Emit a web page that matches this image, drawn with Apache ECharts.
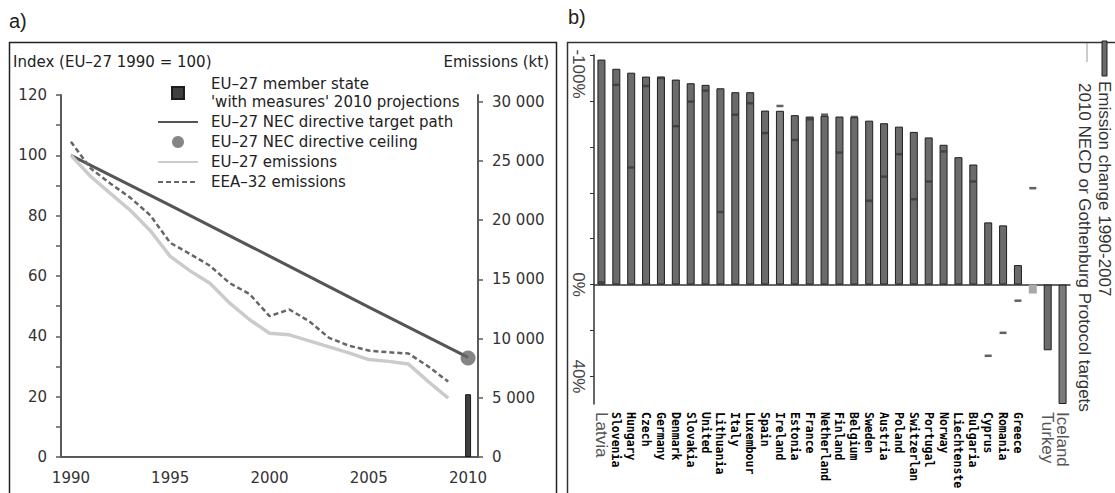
<!DOCTYPE html>
<html>
<head>
<meta charset="utf-8">
<title>NOx emissions: EU-27 trend and country changes</title>
<script src="https://cdn.jsdelivr.net/npm/echarts@6/dist/echarts.min.js"></script>
<style>
    html, body { margin: 0; padding: 0; background: #ffffff; }
    #chart { width: 1115px; height: 493px; }
</style>
</head>
<body>
<div id="chart"></div>
<script>
// ---- panel a: index (EU-27 1990 = 100) and emissions in kt ----
const years = ["1990", "1991", "1992", "1993", "1994", "1995", "1996", "1997", "1998", "1999", "2000",
    "2001", "2002", "2003", "2004", "2005", "2006", "2007", "2008", "2009", "2010"];
const eu27Emissions = [100, 93, 87.3, 81.7, 75, 66.5, 61.7, 57.6, 51, 45.5, 41,
    40.5, 38.5, 36.5, 34.5, 32.3, 31.7, 30.8, 25, 19.5, null];
const eea32Emissions = [104.5, 95.6, 90.6, 85.9, 80.1, 71, 67.3, 63.4, 57.6, 54, 46.7,
    48.9, 45, 39.5, 36.9, 35.3, 34.7, 34.3, 30, 25, null];
// target path read at five-year marks, drawn straight between them
const targetPath = [100, null, null, null, null, 83.4, null, null, null, null, 66.6,
    null, null, null, null, 49.7, null, null, null, null, 33];
const ceiling2010 = 32.8;
const projection2010 = [null, null, null, null, null, null, null, null, null, null, null,
    null, null, null, null, null, null, null, null, null, 5300];
const ktTicks = [0, 5000, 10000, 15000, 20000, 25000, 30000];

// ---- panel b: emission change 1990-2007 per country (%) ----
const countries = ["Latvia", "Slovenia", "Hungary", "Czech", "Germany", "Denmark", "Slovakia", "United",
    "Lithuania", "Italy", "Luxembour", "Spain", "Ireland", "Estonia", "France", "Netherland", "Finland",
    "Belgium", "Sweden", "Austria", "Poland", "Switzerlan", "Portugal", "Norway", "Liechtenste",
    "Bulgaria", "Cyprus", "Romania", "Greece", "", "Turkey", "Iceland"];
const emissionChange = [-98, -94, -92.3, -90.6, -90.6, -89.3, -87.7, -87, -85.5, -83.8, -83.8, -75.8,
    -75.7, -73.8, -73.2, -73.5, -73.2, -73, -71.4, -70.3, -68.8, -66.5, -64.1, -60.9, -55.5, -52.3,
    -27.1, -25.8, -8.5, 3.9, 28.6, 52];
const protocolTargets = [-1, -87, -51, -86.5, -90, -69, -79.7, -84.5, -31.6, -74, -79, -66, -77.8, -63,
    -72, -74, -57.5, -73, -36.5, -47, -56.8, -37.2, -44.9, -58, null, -44.9, 31, 21, 7, -42, null, null];
const pctTicks = [-100, -80, -60, -40, -20, 0, 20, 40];
const pctLabels = [-100, 0, 40];
const largeLabelCountries = ["Latvia", "Turkey", "Iceland"];

const VERDANA = "DejaVu Sans";
const ARIAL = "Liberation Sans";
const AXIS_GREY = "#5a5a5a";
const TEXT_A = 15;

function formatKt(value) {
    if (value < 1000) {
        return String(value);
    }
    return Math.floor(value / 1000) + " " + String(value % 1000).padStart(3, "0");
}

const chart = echarts.init(document.getElementById("chart"), null, { renderer: "svg" });

const hiddenSymbol = { opacity: 0 };

const option = {
    animation: false,
    backgroundColor: "#ffffff",
    title: [
        { text: "a)", left: 9, top: 11, padding: 0, textStyle: { fontFamily: ARIAL, fontSize: 20, fontWeight: "normal", color: "#222" } },
        { text: "b)", left: 568, top: 7, padding: 0, textStyle: { fontFamily: ARIAL, fontSize: 20, fontWeight: "normal", color: "#222" } },
        { text: "Index (EU\u201327 1990 = 100)", left: 13, top: 54, padding: 0, textStyle: { fontFamily: VERDANA, fontSize: TEXT_A, fontWeight: "normal", color: "#222" } },
        { text: "Emissions (kt)", right: 566, top: 54, padding: 0, textStyle: { fontFamily: VERDANA, fontSize: TEXT_A, fontWeight: "normal", color: "#222" } }
    ],
    legend: {
        orient: "vertical",
        left: 157,
        top: 75,
        padding: 0,
        itemWidth: 40,
        itemHeight: 12,
        itemGap: 2,
        selectedMode: false,
        textStyle: { fontFamily: VERDANA, fontSize: TEXT_A, lineHeight: 18, color: "#222", padding: [0, 0, 0, 8] },
        data: [
            { name: "EU\u201327 member state\n'with measures' 2010 projections", icon: "path://M0,0L0.01,0ZM40,12L40.01,12ZM14,0H26V12H14Z" },
            { name: "EU\u201327 NEC directive target path", itemStyle: hiddenSymbol },
            { name: "EU\u201327 NEC directive ceiling", icon: "circle" },
            { name: "EU\u201327 emissions", itemStyle: hiddenSymbol },
            { name: "EEA\u201332 emissions", itemStyle: hiddenSymbol }
        ]
    },
    grid: [
        { left: 61, right: 637, top: 95, bottom: 36 },
        { left: 594, right: 45, top: 55, bottom: 89 }
    ],
    xAxis: [
        {
            type: "category",
            gridIndex: 0,
            data: years,
            boundaryGap: true,
            axisLine: { lineStyle: { color: AXIS_GREY, width: 2 } },
            axisTick: { interval: 0, length: 5, lineStyle: { color: AXIS_GREY, width: 1.5 } },
            axisLabel: { interval: 4, margin: 13, fontFamily: VERDANA, fontSize: TEXT_A, color: "#333" }
        },
        {
            // country labels below the plot
            type: "category",
            gridIndex: 1,
            data: countries,
            position: "bottom",
            axisLine: { show: false, onZero: false },
            axisTick: { show: false },
            axisLabel: {
                interval: 0,
                rotate: -90,
                margin: 8,
                formatter: function (value) {
                    if (!value) {
                        return "";
                    }
                    return largeLabelCountries.includes(value) ? "{big|" + value + "}" : "{small|" + value + "}";
                },
                rich: {
                    big: { fontFamily: ARIAL, fontSize: 17, color: "#555" },
                    small: { fontFamily: "DejaVu Sans Mono", fontSize: 11.5, fontWeight: "bold", color: "#000" }
                }
            }
        },
        {
            // the 0% base line with its small ticks
            type: "category",
            gridIndex: 1,
            data: countries,
            position: "top",
            axisLine: { onZero: true, lineStyle: { color: "#333", width: 1.5 } },
            axisTick: { interval: 0, length: 4, lineStyle: { color: "#333", width: 1 } },
            axisLabel: { show: false }
        }
    ],
    yAxis: [
        {
            type: "value",
            gridIndex: 0,
            min: 0,
            max: 120,
            interval: 10,
            axisLine: { show: true, lineStyle: { color: AXIS_GREY, width: 2 } },
            axisTick: { show: true, length: 5, lineStyle: { color: AXIS_GREY, width: 1.5 } },
            axisLabel: {
                margin: 14,
                fontFamily: VERDANA,
                fontSize: TEXT_A,
                color: "#333",
                formatter: function (value) {
                    return value % 20 === 0 ? String(value) : "";
                }
            },
            splitLine: { show: false }
        },
        {
            type: "value",
            gridIndex: 0,
            position: "right",
            min: 0,
            max: 30550,
            axisLine: { show: true, lineStyle: { color: AXIS_GREY, width: 2 } },
            axisTick: { show: true, length: 5, customValues: ktTicks, lineStyle: { color: AXIS_GREY, width: 1.5 } },
            axisLabel: { customValues: ktTicks, margin: 14, fontFamily: VERDANA, fontSize: TEXT_A, color: "#333", formatter: formatKt },
            splitLine: { show: false }
        },
        {
            type: "value",
            gridIndex: 1,
            inverse: true,
            min: -100,
            max: 52,
            axisLine: { show: true, onZero: false, lineStyle: { color: "#333", width: 1.5 } },
            axisTick: { show: true, length: 4, customValues: pctTicks, lineStyle: { color: "#333", width: 1 } },
            axisLabel: {
                customValues: pctLabels,
                rotate: -90,
                margin: 7,
                fontFamily: ARIAL,
                fontSize: 17,
                color: "#444",
                formatter: function (value) {
                    return value === -100 ? "{first|-100%}" : value + "%";
                },
                rich: {
                    first: { fontFamily: ARIAL, fontSize: 17, color: "#444", padding: [0, 0, 0, 38] }
                }
            },
            splitLine: { show: false }
        }
    ],
    series: [
        {
            name: "EU\u201327 member state\n'with measures' 2010 projections",
            type: "bar",
            xAxisIndex: 0,
            yAxisIndex: 1,
            data: projection2010,
            barWidth: 6,
            itemStyle: { color: "#3f3f3f", borderColor: "#1c1c1c", borderWidth: 1 }
        },
        {
            name: "EU\u201327 NEC directive target path",
            type: "line",
            xAxisIndex: 0,
            yAxisIndex: 0,
            data: targetPath,
            connectNulls: true,
            symbol: "none",
            lineStyle: { color: "#555555", width: 3 },
            itemStyle: { color: "#555555" }
        },
        {
            name: "EU\u201327 NEC directive ceiling",
            type: "scatter",
            xAxisIndex: 0,
            yAxisIndex: 0,
            data: [["2010", ceiling2010]],
            symbolSize: 15,
            itemStyle: { color: "#666666" },
            z: 5
        },
        {
            name: "EU\u201327 emissions",
            type: "line",
            xAxisIndex: 0,
            yAxisIndex: 0,
            data: eu27Emissions,
            symbol: "none",
            lineStyle: { color: "#cbcbcb", width: 3.5 },
            itemStyle: { color: "#cbcbcb" }
        },
        {
            name: "EEA\u201332 emissions",
            type: "line",
            xAxisIndex: 0,
            yAxisIndex: 0,
            data: eea32Emissions,
            symbol: "none",
            lineStyle: { color: "#666666", width: 2.5, type: [5, 3] },
            itemStyle: { color: "#666666" }
        },
        {
            name: "Emission change 1990-2007",
            type: "bar",
            xAxisIndex: 1,
            yAxisIndex: 2,
            barWidth: 8,
            data: emissionChange.map(function (value, i) {
                return countries[i] === "" ? { value: value, itemStyle: { borderWidth: 0 } } : value;
            }),
            itemStyle: {
                borderColor: "#1e1e1e",
                borderWidth: 1,
                color: function (p) {
                    if (p.name === "") {
                        return "#a9a9a9";
                    }
                    if (p.name === "Ireland" || p.name === "Iceland") {
                        return "#7b7b7b";
                    }
                    return "#6b6b6b";
                }
            }
        },
        {
            name: "2010 NECD or Gothenburg Protocol targets",
            type: "scatter",
            xAxisIndex: 1,
            yAxisIndex: 2,
            data: protocolTargets,
            symbol: "rect",
            symbolSize: [7, 2.5],
            itemStyle: { color: "#3a3a3a" },
            z: 5
        }
    ],
    graphic: [
        // panel frames
        { type: "rect", silent: true, shape: { x: 9.5, y: 42.5, width: 547, height: 480 }, style: { fill: "none", stroke: "#222", lineWidth: 1.5 } },
        { type: "rect", silent: true, shape: { x: 567.5, y: 42.5, width: 600, height: 480 }, style: { fill: "none", stroke: "#333", lineWidth: 1.5 } },
        // panel b legend, turned like the rest of the panel
        { type: "rect", silent: true, shape: { x: 1102, y: 41, width: 5, height: 35 }, style: { fill: "#6b6b6b", stroke: "#222", lineWidth: 1 } },
        { type: "line", silent: true, shape: { x1: 1087, y1: 43, x2: 1087, y2: 62 }, style: { stroke: "#999", lineWidth: 1 } },
        {
            type: "text", silent: true, x: 1104, y: 81, rotation: -Math.PI / 2,
            style: { text: "Emission change 1990-2007", fontFamily: ARIAL, fontSize: 17, fill: "#333", align: "left", verticalAlign: "middle" }
        },
        {
            type: "text", silent: true, x: 1084, y: 83, rotation: -Math.PI / 2,
            style: { text: "2010 NECD or Gothenburg Protocol targets", fontFamily: ARIAL, fontSize: 17, fill: "#333", align: "left", verticalAlign: "middle" }
        }
    ]
};

chart.setOption(option);
</script>
</body>
</html>
